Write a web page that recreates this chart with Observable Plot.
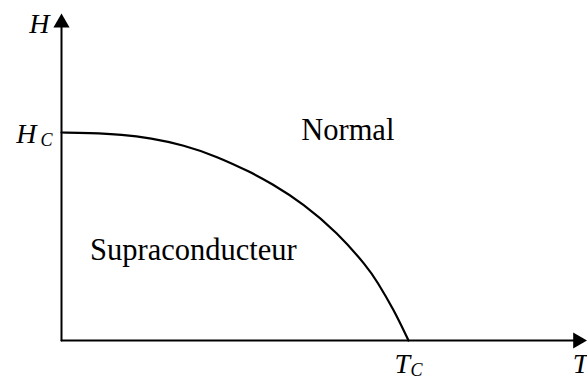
<!DOCTYPE html>
<html>
<head>
<meta charset="utf-8">
<script src="https://cdn.jsdelivr.net/npm/d3@7"></script>
<script src="https://cdn.jsdelivr.net/npm/@observablehq/plot@0.6"></script>
<style>
  html, body { margin: 0; padding: 0; background: #fff; }
  #chart { width: 587px; height: 380px; overflow: hidden; }
</style>
</head>
<body>
<div id="chart"></div>
<script>
// Critical field curve H(T) (T in units of Tc, H in units of Hc)
const curveT = [0, 0.078, 0.176, 0.256, 0.352, 0.448, 0.545, 0.602, 0.698, 0.794, 0.881, 0.909, 0.957, 1.0];
const curveH = [1, 0.998, 0.990, 0.973, 0.940, 0.885, 0.809, 0.758, 0.657, 0.520, 0.355, 0.285, 0.150, 0];

// Axis extents (arrow heads)
const tMax = 1.488;
const hMax = 1.527;

// Region labels
const regionNames = ["Normal", "Supraconducteur"];
const regionT = [0.825, 0.380];
const regionH = [0.966, 0.385];

const curve = curveT.map((t, i) => ({T: t, H: curveH[i]}));
const regions = regionNames.map((n, i) => ({name: n, T: regionT[i], H: regionH[i]}));

const serif = "'Liberation Serif', 'Times New Roman', serif";

const chart = Plot.plot({
  width: 587,
  height: 380,
  x: {domain: [0, 1], range: [61, 408], axis: null},
  y: {domain: [0, 1], range: [340, 132], axis: null},
  style: {background: "#fff", overflow: "visible", fontFamily: serif},
  marks: [
    // axes
    Plot.line([{T: 0, H: 0}, {T: tMax, H: 0}], {x: "T", y: "H", stroke: "#000", strokeWidth: 2}),
    Plot.line([{T: 0, H: 0}, {T: 0, H: hMax}], {x: "T", y: "H", stroke: "#000", strokeWidth: 2}),
    Plot.dot([{T: 0, H: hMax}], {x: "T", y: "H", symbol: "triangle", r: 6, fill: "#000", stroke: null}),
    Plot.dot([{T: tMax, H: 0}], {x: "T", y: "H", symbol: "triangle", r: 6, fill: "#000", stroke: null, rotate: 90}),
    // critical curve
    Plot.line(curve, {x: "T", y: "H", stroke: "#000", strokeWidth: 2.2, curve: "basis"}),
    // region labels
    Plot.text(regions, {x: "T", y: "H", text: "name", lineAnchor: "bottom", textAnchor: "middle", fontSize: 30.5, fill: "#000"}),
    // axis labels
    Plot.text([{T: 0, H: hMax}], {x: "T", y: "H", text: () => "H", textAnchor: "end", lineAnchor: "bottom", dx: -12, dy: 10, fontSize: 28, fontStyle: "italic", fill: "#000"}),
    Plot.text([{T: 0, H: 1}], {x: "T", y: "H", text: () => "H", textAnchor: "end", lineAnchor: "bottom", dx: -25, dy: 10, fontSize: 28, fontStyle: "italic", fill: "#000"}),
    Plot.text([{T: 0, H: 1}], {x: "T", y: "H", text: () => "C", textAnchor: "end", lineAnchor: "bottom", dx: -9, dy: 13, fontSize: 18, fontStyle: "italic", fill: "#000"}),
    Plot.text([{T: 1, H: 0}], {x: "T", y: "H", text: () => "T", textAnchor: "start", lineAnchor: "bottom", dx: -14, dy: 32, fontSize: 28, fontStyle: "italic", fill: "#000"}),
    Plot.text([{T: 1, H: 0}], {x: "T", y: "H", text: () => "C", textAnchor: "start", lineAnchor: "bottom", dx: 2, dy: 35, fontSize: 18, fontStyle: "italic", fill: "#000"}),
    Plot.text([{T: tMax, H: 0}], {x: "T", y: "H", text: () => "T", textAnchor: "start", lineAnchor: "bottom", dx: -5, dy: 32, fontSize: 28, fontStyle: "italic", fill: "#000"})
  ]
});
document.getElementById("chart").appendChild(chart);
</script>
</body>
</html>
